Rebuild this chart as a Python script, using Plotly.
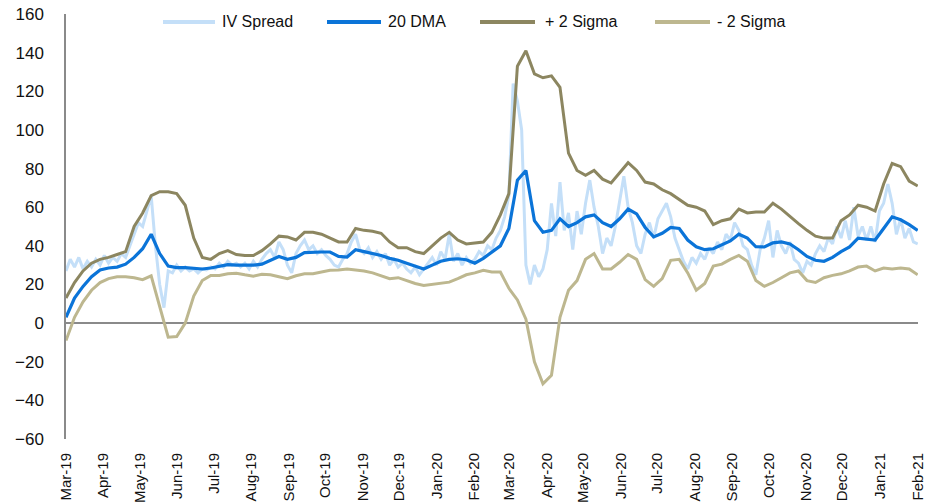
import plotly.graph_objects as go
import pandas as pd

START, END = "2019-03-01", "2021-02-01"

# weekly observation dates for the smoothed series, half-weekly for the raw spread
weekly_dates = pd.date_range(START, END, periods=101)
iv_dates = pd.date_range(START, END, periods=201)

iv_spread = [
    27, 33, 29, 34, 28, 32, 29, 33, 30, 35, 31, 34, 32, 36, 34, 40,
    45, 52, 50, 58, 66, 40, 20, 8,
    27, 26, 30, 27, 29, 27, 28, 26, 28, 27.5, 29, 28, 31, 29, 32, 30,
    31, 29, 31, 28, 32, 29, 33, 36, 38, 34,
    42, 38, 30, 26, 36, 40, 43, 38, 40, 36,
    38, 35, 33, 30, 29, 33, 36, 42, 46, 38,
    36, 39, 34, 37, 33, 36, 30, 33, 29, 31,
    28, 26, 29, 25, 28, 31, 34, 30, 37, 33,
    46, 32, 36, 30, 34, 31, 33, 37, 35, 40,
    38, 44, 48, 55, 66, 124, 115, 100, 30, 20,
    30, 24, 28, 38, 62, 45, 73, 48, 57, 38,
    58, 46, 62, 74, 60, 50, 36, 44, 40, 50,
    64, 76, 60, 52, 40, 36, 46, 52, 44, 54,
    58, 62, 55, 44, 38, 32, 28, 34, 31, 36,
    33, 39, 36, 42, 38, 46, 43, 52, 48, 40,
    38, 30, 25, 38, 44, 53, 34, 48, 40, 36,
    42, 33, 31, 26, 32, 30, 36, 40, 37, 44,
    41, 50, 44, 53, 43, 60, 45, 50, 43, 50,
    42, 58, 62, 72, 62, 46, 54, 44, 49, 42, 41,
]

dma_20 = [
    3, 13, 19, 24, 27.5, 28.5, 29, 30.5, 34, 38.5,
    46, 36, 29.5, 28.7, 28.7, 28.5, 28, 28.5, 29.3, 30.3,
    30, 30, 30, 30.5, 32.5, 34.5, 33, 34, 36.5, 36.8,
    36.8, 36.8, 34.5, 34.2, 38, 37, 36, 35, 33.5, 32.5,
    31, 29.5, 28, 30, 32, 33, 33.3, 32.8, 31, 33.5,
    36.5, 40, 49, 74, 79, 53, 47, 48, 54, 50,
    52, 55, 56, 52, 50, 54, 59, 56.5, 49.5, 44.6,
    46.5, 49.5, 49, 43, 39.5, 38, 38.5, 40.5, 42.5, 46,
    44, 39.5, 39.4, 41.5, 42, 41, 38, 34.5, 32.5, 32,
    34, 37, 39.4, 44, 43.7, 43, 49, 55, 53.5, 51,
    48,
]

plus_2_sigma = [
    13, 21, 27, 31, 33, 34, 35.5, 37, 50, 57,
    66, 68, 68, 67, 61, 44, 34, 33, 36, 37.5,
    35.5, 35, 35, 37.5, 41, 45, 44.6, 43, 47, 47,
    46, 44, 42, 42, 49, 48, 47.5, 46.5, 42, 39,
    39, 37, 36, 40, 44, 47, 43, 41, 41.5, 42,
    47, 56, 67, 133, 141, 129, 127, 128, 122, 88,
    79, 76.5, 79, 74.5, 72.5, 78, 83, 79, 73, 72,
    69, 67, 64, 61, 60, 58, 51, 53, 54, 59,
    57, 57.5, 57.5, 62, 59, 55, 51.5, 48, 45, 44,
    44, 53, 56, 61, 60, 58, 72, 82.6, 81, 73.5,
    71,
]

minus_2_sigma = [
    -9, 3, 11, 17, 21, 23, 24, 24, 23.5, 22.5,
    24.5, 8, -7.3, -7, 0, 14, 22, 24.7, 24.7, 25.5,
    25.8, 25, 24.3, 25.3, 25, 24, 23, 24.5, 25.5, 25.6,
    26.5, 27.3, 27.5, 28, 27.5, 27, 26, 24.5, 23, 23.5,
    22, 20.5, 19.5, 20, 20.5, 21.2, 23, 25, 26, 27.3,
    26.5, 26.4, 18, 12, 2, -20, -31.4, -27, 3, 17,
    22, 33, 36, 28, 28, 31.5, 35.5, 33, 22.5, 19,
    23, 32.5, 33, 26, 17, 20.5, 29.5, 30.5, 33, 35,
    32, 22, 19, 21, 23.5, 26, 27, 22, 21, 23.5,
    24.7, 25.5, 27, 29, 29.5, 27, 28.5, 28, 28.5, 28,
    25,
]

series_names = ["IV Spread", "20 DMA", "+ 2 Sigma", "- 2 Sigma"]
series_colors = ["#C4DFF8", "#0B74D8", "#8C8660", "#BDB78F"]

fig = go.Figure()
fig.add_trace(go.Scatter(x=iv_dates, y=iv_spread, mode="lines", name=series_names[0],
                         line=dict(color=series_colors[0], width=3)))
fig.add_trace(go.Scatter(x=weekly_dates, y=dma_20, mode="lines", name=series_names[1],
                         line=dict(color=series_colors[1], width=3.2)))
fig.add_trace(go.Scatter(x=weekly_dates, y=plus_2_sigma, mode="lines", name=series_names[2],
                         line=dict(color=series_colors[2], width=3)))
fig.add_trace(go.Scatter(x=weekly_dates, y=minus_2_sigma, mode="lines", name=series_names[3],
                         line=dict(color=series_colors[3], width=3)))

W, H = 941, 503
ML, MR, MT, MB = 66, 23, 14, 64
PW, PH = W - ML - MR, H - MT - MB


def px(x):
    return (x - ML) / PW


def py(y):
    return (H - MB - y) / PH


# hand-made legend (long line samples like the original)
legend_samples = [(163, 215), (327, 381), (480, 535), (655, 710)]
legend_text_x = [220, 386, 543, 715]
shapes = []
annotations = []
for (x0, x1), tx, name, col in zip(legend_samples, legend_text_x, series_names, series_colors):
    shapes.append(dict(type="line", xref="paper", yref="paper", x0=px(x0), x1=px(x1),
                       y0=py(22), y1=py(22), line=dict(color=col, width=4)))
    annotations.append(dict(xref="paper", yref="paper", x=px(tx), y=py(22), text=name,
                            showarrow=False, xanchor="left", yanchor="middle",
                            font=dict(family="Liberation Sans, Arial", size=16, color="#111")))

fig.update_layout(
    width=W, height=H,
    margin=dict(l=ML, r=MR, t=MT, b=MB, autoexpand=False),
    plot_bgcolor="white", paper_bgcolor="white",
    showlegend=False,
    shapes=shapes, annotations=annotations,
    font=dict(family="Liberation Sans, Arial", color="#111"),
    xaxis=dict(
        type="date", range=[START, "2021-02-01 06:00"], automargin=False,
        tick0=START, dtick="M1", tickformat="%b-%y", tickangle=-90,
        showgrid=False, showline=False, zeroline=False,
        ticks="outside", ticklen=7, tickcolor="rgba(0,0,0,0)",
        tickfont=dict(family="Liberation Sans, Arial", size=15, color="#111"),
    ),
    yaxis=dict(
        range=[-60, 160], dtick=20, showgrid=False, automargin=False,
        zeroline=True, zerolinecolor="#8a8a8a", zerolinewidth=1.5,
        showline=True, linecolor="#8a8a8a", linewidth=1.5,
        ticks="outside", ticklen=17, tickcolor="rgba(0,0,0,0)",
        tickfont=dict(family="Liberation Sans, Arial", size=17, color="#111"),
    ),
)

fig.write_html(
    "out.html",
    config={"displayModeBar": False},
    post_script="document.body.style.margin='0';document.body.style.overflow='hidden';",
)
